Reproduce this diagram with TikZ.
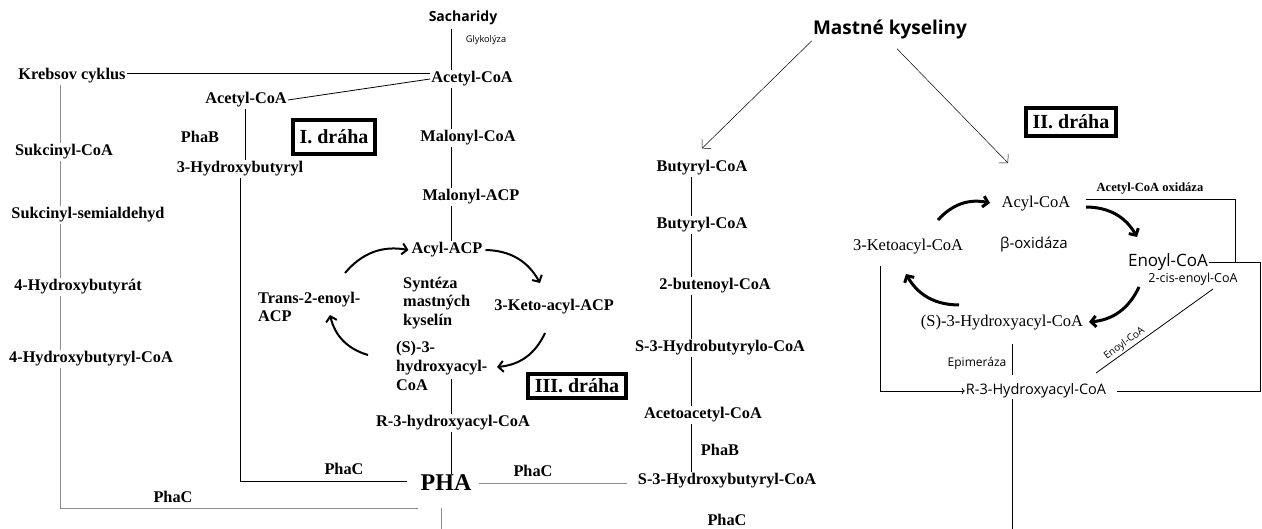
\documentclass[tikz,border=0pt]{standalone}
\usepackage{fontspec}
\setmainfont{Liberation Serif}
\newfontfamily\sansf{Open Sans}
\usetikzlibrary{arrows.meta}
\begin{document}
\begin{tikzpicture}[x=1pt,y=-1pt,
  met/.style={font=\bfseries\fontsize{16.3}{18.7}\selectfont, inner sep=1pt},
  tim/.style={font=\fontsize{16.5}{19}\selectfont, inner sep=1pt},
  drb/.style={draw, line width=4pt, font=\bfseries\fontsize{20}{22}\selectfont, inner xsep=7pt, text height=14pt, text depth=0pt},
  ln/.style={line width=0.8pt},
  gln/.style={line width=1pt, black!45},
  cyc/.style={line width=2pt, -{Straight Barb[length=5pt,width=11pt]}},
  pil/.style={line width=0.5pt, -{Straight Barb[length=6pt,width=13pt]}}]
	\fill[white] (0,0) rectangle (1262,529);
	\useasboundingbox (0,0) rectangle (1262,529);

	\node[met] (krebs) at (72,76) {Krebsov cyklus};
	\node[met] (sukc) at (64,152) {Sukcinyl-CoA};
	\node[met] (ssa) at (88,215) {Sukcinyl-semialdehyd};
	\node[met] (hbt) at (78,287) {4-Hydroxybutyrát};
	\node[met] (hbcoa) at (91,359) {4-Hydroxybutyryl-CoA};
	\node[met] (phac1) at (173,497) {PhaC};

	\node[font=\sansf\bfseries\fontsize{14}{16}\selectfont] (sach) at (463,18) {Sacharidy};
	\node[font=\sansf\fontsize{9.2}{11}\selectfont] (glyk) at (486,40) {Glykolýza};
	\node[met] (acoa) at (472,79) {Acetyl-CoA};
	\node[met] (mcoa) at (468,138) {Malonyl-CoA};
	\node[met] (macp) at (471,197) {Malonyl-ACP};
	\node[met] (aacp) at (447,250) {Acyl-ACP};
	\node[met] (kacp) at (554,307) {3-Keto-acyl-ACP};
	\node[met, align=left, anchor=west] (synt) at (402,303) {Syntéza\\mastných\\kyselín};
	\node[met, align=left, anchor=west] (trans) at (257,307) {Trans-2-enoyl-\\ACP};
	\node[met, align=left, anchor=west] (s3h) at (395,366) {(S)-3-\\hydroxyacyl-\\CoA};
	\node[met] (r3h) at (453,423) {R-3-hydroxyacyl-CoA};
	\node[font=\bfseries\fontsize{24}{26}\selectfont, inner sep=1pt] (pha) at (446,483) {PHA};
	\node[met] (phac2) at (344,469) {PhaC};
	\node[met] (phac3) at (533,471) {PhaC};

	\node[met] (acoa1) at (246,100) {Acetyl-CoA};
	\node[met] (phab1) at (200,137) {PhaB};
	\node[met] (hb3) at (240,169) {3-Hydroxybutyryl};

	\node[drb, minimum height=34pt] (d1) at (334,137) {I. dráha};
	\node[drb, minimum height=24pt] (d3) at (577,386) {III. dráha};
	\node[drb, minimum height=28pt] (d2) at (1071,122) {II. dráha};

	\node[met] (bcoa1) at (702,168) {Butyryl-CoA};
	\node[met] (bcoa2) at (702,225) {Butyryl-CoA};
	\node[met] (bute) at (715,286) {2-butenoyl-CoA};
	\node[met] (s3hb) at (720,348) {S-3-Hydrobutyrylo-CoA};
	\node[met] (aacoa) at (703,415) {Acetoacetyl-CoA};
	\node[met] (phab2) at (720,450) {PhaB};
	\node[met] (s3hbc) at (727,481) {S-3-Hydroxybutyryl-CoA};
	\node[met] (phac4) at (727,520) {PhaC};

	\node[font=\sansf\bfseries\fontsize{19}{21}\selectfont, inner sep=1pt] (mk) at (890,30) {Mastné kyseliny};
	\node[tim] (acyl) at (1036,204) {Acyl-CoA};
	\node[font=\sansf\fontsize{15}{17}\selectfont] (boxi) at (1034,245) {β-oxidáza};
	\node[tim] (keto) at (908,247) {3-Ketoacyl-CoA};
	\node[font=\sansf\fontsize{17}{19}\selectfont, inner sep=1pt] (enoyl) at (1168,262) {Enoyl-CoA};
	\node[font=\sansf\fontsize{12.5}{14}\selectfont, inner sep=1pt] (cis) at (1193,279) {2-cis-enoyl-CoA};
	\node[tim] (s3r) at (1002,323) {(S)-3-Hydroxyacyl-CoA};
	\node[font=\sansf\fontsize{14.5}{17}\selectfont, inner sep=1pt] (r3r) at (1036,391) {R-3-Hydroxyacyl-CoA};
	\node[font=\sansf\fontsize{12}{14}\selectfont] (epi) at (977,363) {Epimeráza};
	\node[font=\bfseries\fontsize{12.5}{14}\selectfont] (aox) at (1150,189) {Acetyl-CoA oxidáza};

	\coordinate (kx) at (60,0);
	\coordinate (kend) at (418,508);
	\coordinate (mx) at (451,0);
	\coordinate (ax) at (245,0);
	\coordinate (bx) at (691,0);
	\coordinate (pbot) at (441,529);
	\coordinate (fa) at (1008,163);
	\coordinate (rx) at (1260,0);
	\coordinate (kx2) at (880,0);
	\coordinate (ex) at (1012,0);
	\coordinate (rbot) at (1012,529);

	\foreach \a/\b in {krebs/sukc,sukc/ssa,ssa/hbt,hbt/hbcoa}
		\draw[gln] (\a.south -| kx) -- (\b.north -| kx);
	\draw[gln] (hbcoa.south -| kx) |- (kend);
	\draw[ln] ([yshift=3pt]krebs.east) -- ([yshift=3pt]krebs.east -| acoa.west);
	\draw[ln] (acoa1.east) -- (acoa.west);

	\foreach \a/\b in {sach/acoa,acoa/mcoa,mcoa/macp,macp/aacp}
		\draw[ln] (\a.south -| mx) -- (\b.north -| mx);
	\draw[ln] ([yshift=13pt]s3h.south -| mx) -- (r3h.north -| mx);
	\draw[ln] (r3h.south -| mx) -- (pha.north -| mx);
	\draw[ln] (acoa1.south -| ax) -- (hb3.north -| ax);
	\draw[ln] (hb3.south) |- ([xshift=-12pt,yshift=2pt]pha.west);
	\draw[gln] ([xshift=6pt]pha.east) -- ([xshift=-10pt]pha.east -| s3hbc.west);
	\draw[gln] ([yshift=-16pt]pha.south -| pbot) -- (pbot);

	\foreach \a/\b in {bcoa1/bcoa2,bcoa2/bute,bute/s3hb,s3hb/aacoa,aacoa/s3hbc}
		\draw[ln] (\a.south -| bx) -- (\b.north -| bx);

	\draw[cyc] ([shift={(88,-34)}]trans.west) to[bend left=30] ([xshift=-2pt]aacp.west);
	\draw[cyc] ([xshift=2pt]aacp.east) to[bend left=30] ([shift={(-14,-24)}]kacp.center);
	\draw[cyc] ([shift={(-9,26)}]kacp.center) to[bend left=30] ([shift={(102,1)}]s3h.west);
	\draw[cyc] ([shift={(-27,-11)}]s3h.west) to[bend left=30] ([shift={(73,8)}]trans.west);

	\draw[pil] (mk.south west) -- ([yshift=11pt]bcoa1.north);
	\draw[pil] ([shift={(7,8)}]mk.south) -- (fa);

	\draw[cyc, line width=3pt] ([shift={(30,-27)}]keto.center) to[bend left=30] ([shift={(-46,-1)}]acyl.center);
	\draw[cyc, line width=3pt] ([shift={(50,3)}]acyl.center) to[bend left=30] ([shift={(-31,-25)}]enoyl.center);
	\draw[cyc, line width=3pt] ([shift={(-29,25)}]enoyl.center) to[bend left=30] ([shift={(87,-1)}]s3r.center);
	\draw[cyc, line width=3pt] ([shift={(-43,-18)}]s3r.center) to[bend left=30] ([shift={(-2,27)}]keto.center);

	\draw[ln] ([shift={(50,-5)}]acyl.center) -| ([xshift=26pt]enoyl.east);
	\draw[ln] (enoyl.east) -- (enoyl.east -| rx) -- (rx |- r3r.east) -- ([xshift=10pt]r3r.east);
	\draw[ln] ([shift={(20,10)}]cis.center) -- ([shift={(60,-18)}]r3r.center)
		node[pos=0.72, sloped, above, inner sep=2pt, font=\sansf\fontsize{10}{12}\selectfont] {Enoyl-CoA};
	\draw[ln, -{To[length=3pt]}] ([yshift=-10pt]keto.south -| kx2) |- (r3r.west);
	\draw[ln] ([yshift=-12pt]s3r.south -| ex) -- ([yshift=8pt]r3r.north -| ex);
	\draw[ln] (r3r.south -| ex) -- (rbot);
\end{tikzpicture}
\end{document}
